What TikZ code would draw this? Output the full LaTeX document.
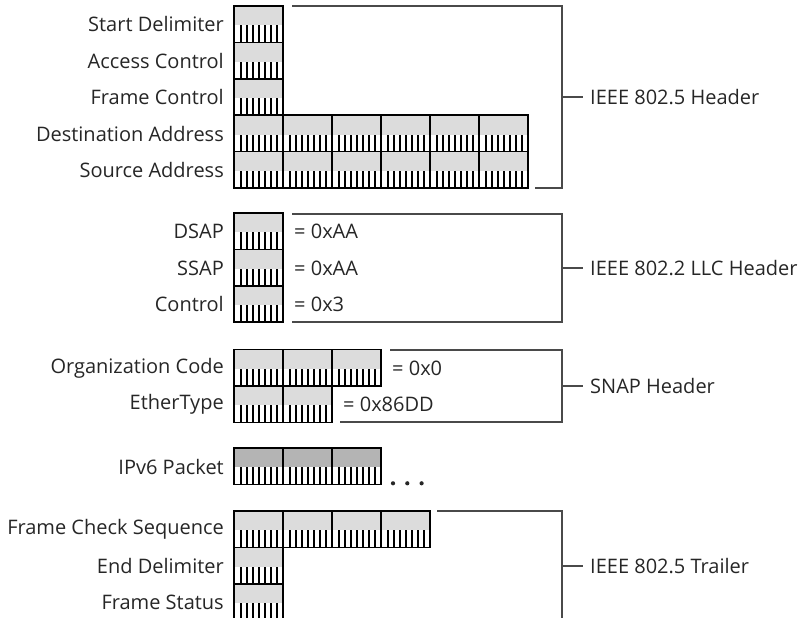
\documentclass[tikz,border=0pt]{standalone}
\usepackage{fontspec}
\setmainfont{Open Sans}
\definecolor{cellgray}{HTML}{DCDCDC}
\definecolor{darkcell}{HTML}{B4B4B4}
\definecolor{txt}{HTML}{262626}
\definecolor{brk}{HTML}{4A4A4A}
\tikzset{
  cell/.style={draw=black, line width=1.6pt, fill=cellgray, minimum width=49pt, minimum height=36.4pt,
    inner sep=0pt, outer sep=0pt, anchor=north west,
    path picture={
      \coordinate (pb) at (path picture bounding box.south west);
      \fill[white] (pb) rectangle ([xshift=49pt,yshift=17pt]pb);
      \foreach \i in {0,...,6} {
        \fill[black] ([xshift={6pt+\i*6pt}]pb) rectangle ([xshift={8.4pt+\i*6pt},yshift=17pt]pb);
      }
    }},
  dcell/.style={cell, fill=darkcell},
  lbl/.style={font=\fontsize{20}{23}\selectfont, text=txt, inner sep=0pt},
  fname/.style={lbl, anchor=east},
  hname/.style={lbl, anchor=west},
  brace/.style={draw=brk, line width=1.1pt},
}
\begin{document}
\begin{tikzpicture}[x=1pt,y=-1pt]
\useasboundingbox (0,0) rectangle (798,618);
\clip (0,0) rectangle (798,618);
% ---------- IEEE 802.5 header
\node[cell] (sd) at (234,6) {};
\node[cell] (ac) at (234,42.4) {};
\node[cell] (fc) at (234,78.8) {};
\foreach \k/\x in {1/234,2/283,3/332,4/381,5/430,6/479} {
  \node[cell] (da\k) at (\x,115.2) {};
  \node[cell] (sa\k) at (\x,151.6) {};
}
\node[fname] (lsd) at (224,24.5) {Start Delimiter};
\node[fname] (lac) at (224,60.9) {Access Control};
\node[fname] (lfc) at (224,97.3) {Frame Control};
\node[fname] (lda) at (224,133.7) {Destination Address};
\node[fname] (lsa) at (224,170.1) {Source Address};
\coordinate (h1a) at (292,6);
\coordinate (h1b) at (562,6);
\coordinate (h1c) at (562,188);
\coordinate (h1d) at (535,188);
\coordinate (h1m) at (562,97);
\node[hname] (h1) at (590,97) {IEEE 802.5 Header};
\draw[brace] (h1a) -- (h1b) -- (h1c) -- (h1d);
\draw[brace] (h1m) -- ([xshift=-7pt]h1.west);
% ---------- LLC header
\node[cell] (dsap) at (234,213) {};
\node[cell] (ssap) at (234,249.4) {};
\node[cell] (ctl) at (234,285.8) {};
\node[fname] (ldsap) at (224,231.5) {DSAP};
\node[fname] (lssap) at (224,267.9) {SSAP};
\node[fname] (lctl) at (224,304.3) {Control};
\node[hname] (vdsap) at (294,231.5) {= 0xAA};
\node[hname] (vssap) at (294,267.9) {= 0xAA};
\node[hname] (vctl) at (294,304.3) {= 0x3};
\coordinate (h2a) at (292,214);
\coordinate (h2b) at (562,214);
\coordinate (h2c) at (562,322);
\coordinate (h2d) at (292,322);
\coordinate (h2m) at (562,268);
\node[hname] (h2) at (590,268) {IEEE 802.2 LLC Header};
\draw[brace] (h2a) -- (h2b) -- (h2c) -- (h2d);
\draw[brace] (h2m) -- ([xshift=-7pt]h2.west);
% ---------- SNAP header
\foreach \k/\x in {1/234,2/283,3/332} { \node[cell] (oc\k) at (\x,349.5) {}; }
\foreach \k/\x in {1/234,2/283} { \node[cell] (et\k) at (\x,385.9) {}; }
\node[fname] (loc) at (224,368) {Organization Code};
\node[fname] (let) at (224,404.4) {EtherType};
\node[hname] (voc) at (392,368) {= 0x0};
\node[hname] (vet) at (343,404.4) {= 0x86DD};
\coordinate (h3a) at (390,350);
\coordinate (h3b) at (562,350);
\coordinate (h3c) at (562,422);
\coordinate (h3d) at (340,422);
\coordinate (h3m) at (562,386);
\node[hname] (h3) at (590,386) {SNAP Header};
\draw[brace] (h3a) -- (h3b) -- (h3c) -- (h3d);
\draw[brace] (h3m) -- ([xshift=-7pt]h3.west);
% ---------- IPv6 packet
\foreach \k/\x in {1/234,2/283,3/332} { \node[dcell] (ip\k) at (\x,448) {}; }
\node[fname] (lip) at (224,466.5) {IPv6 Packet};
\foreach \k/\x in {1/393,2/407.3,3/421.6} { \fill[txt] (\x,483.3) circle (2.1pt); }
% ---------- IEEE 802.5 trailer
\foreach \k/\x in {1/234,2/283,3/332,4/381} { \node[cell] (fcs\k) at (\x,511) {}; }
\node[cell] (ed) at (234,547.4) {};
\node[cell] (fs) at (234,583.8) {};
\node[fname] (lfcs) at (224,529.5) {Frame Check Sequence};
\node[fname] (led) at (224,565.9) {End Delimiter};
\node[fname] (lfs) at (224,602.3) {Frame Status};
\coordinate (h5a) at (437,511);
\coordinate (h5b) at (562,511);
\coordinate (h5c) at (562,640);
\coordinate (h5m) at (562,566);
\node[hname] (h5) at (590,566) {IEEE 802.5 Trailer};
\draw[brace] (h5a) -- (h5b) -- (h5c);
\draw[brace] (h5m) -- ([xshift=-7pt]h5.west);
\end{tikzpicture}
\end{document}
